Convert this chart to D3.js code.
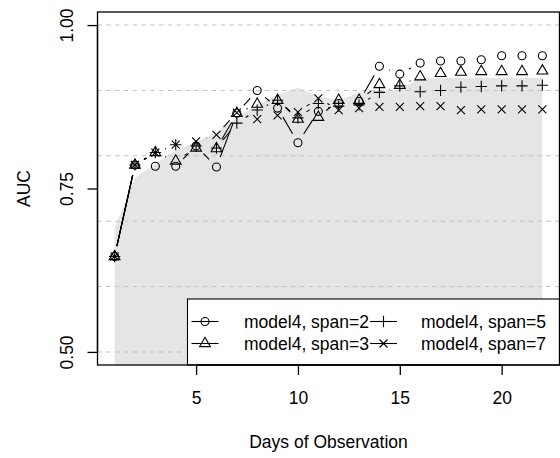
<!DOCTYPE html>
<html>
<head>
<meta charset="utf-8">
<script src="https://cdn.jsdelivr.net/npm/d3@7"></script>
<style>
  html, body { margin: 0; padding: 0; background: #fff; }
  svg { display: block; }
  text { font-family: "Liberation Sans", Arial, Helvetica, sans-serif; fill: #000; }
</style>
</head>
<body>
<svg id="chart" width="560" height="458"></svg>
<script>
// Days of observation (x values)
const days = [1, 2, 3, 4, 5, 6, 7, 8, 9, 10, 11, 12, 13, 14, 15, 16, 17, 18, 19, 20, 21, 22];

// AUC per day for each span setting of model4
const span2 = [0.646, 0.786, 0.784, 0.784, 0.815, 0.783, 0.865, 0.900, 0.873, 0.820, 0.868,
               0.880, 0.883, 0.937, 0.925, 0.942, 0.945, 0.945, 0.947, 0.953, 0.953, 0.953];
const span3 = [0.646, 0.786, 0.805, 0.792, 0.812, 0.811, 0.865, 0.879, 0.885, 0.856, 0.859,
               0.885, 0.885, 0.909, 0.908, 0.921, 0.926, 0.928, 0.929, 0.929, 0.929, 0.930];
const span5 = [0.646, 0.786, 0.805, 0.817, 0.815, 0.812, 0.850, 0.870, 0.885, 0.858, 0.880,
               0.876, 0.878, 0.897, 0.907, 0.898, 0.900, 0.905, 0.906, 0.907, 0.907, 0.908];
const span7 = [0.646, 0.786, 0.805, 0.817, 0.822, 0.832, 0.866, 0.856, 0.862, 0.867, 0.888,
               0.870, 0.873, 0.875, 0.875, 0.876, 0.876, 0.870, 0.871, 0.871, 0.871, 0.871];

// Shaded reference band (upper edge per day)
const band = [0.690, 0.766, 0.788, 0.808, 0.821, 0.836, 0.859, 0.878, 0.893, 0.904, 0.891,
              0.885, 0.897, 0.900, 0.901, 0.919, 0.919, 0.919, 0.919, 0.919, 0.919, 0.919];

const seriesNames = ["model4, span=2", "model4, span=3", "model4, span=5", "model4, span=7"];
const seriesSymbols = ["circle", "triangle", "plus", "cross"];
const xTicks = [5, 10, 15, 20];
const yTicks = [0.50, 0.75, 1.00];
const yGrid = [0.5, 0.6, 0.7, 0.8, 0.9, 1.0];
const xTitle = "Days of Observation";
const yTitle = "AUC";

const seriesValues = [span2, span3, span5, span7];

const svg = d3.select("#chart");
const pLeft = 97.5, pRight = 559.5, pTop = 12, pBottom = 365;

const x = d3.scaleLinear().domain([0.16, 22.84]).range([pLeft, pRight]);
const y = d3.scaleLinear().domain([0.48, 1.02]).range([pBottom, pTop]);

const FS = 17.5;       // base font size
const R = 4.0;         // symbol radius unit
const GAP = 10.5;      // gap around points on connecting lines
const LW = 1.1;

svg.append("defs").append("clipPath").attr("id", "plotclip")
  .append("rect").attr("x", pLeft).attr("y", pTop).attr("width", pRight - pLeft).attr("height", pBottom - pTop);

const plot = svg.append("g").attr("clip-path", "url(#plotclip)");

// shaded band down to the bottom of the plot region
const area = d3.area()
  .x((d, i) => x(days[i]))
  .y0(pBottom + 5)
  .y1(d => y(d));
plot.append("path").datum(band).attr("d", area).attr("fill", "#e5e5e5").attr("stroke", "none");

// dashed horizontal reference lines
plot.selectAll("line.grid").data(yGrid).enter().append("line")
  .attr("x1", pLeft).attr("x2", pRight)
  .attr("y1", d => y(d)).attr("y2", d => y(d))
  .attr("stroke", "#c4c4c4").attr("stroke-width", LW).attr("stroke-dasharray", "4.4,4.4");

// symbol painter
function drawSymbol(g, kind, cx, cy) {
  if (kind === "circle") {
    g.append("circle").attr("cx", cx).attr("cy", cy).attr("r", R)
      .attr("fill", "none").attr("stroke", "#000").attr("stroke-width", LW);
  } else if (kind === "triangle") {
    const r = 1.5551 * R, hx = 1.3468 * R, hy = 0.7776 * R;
    g.append("path").attr("d", `M${cx},${cy - r}L${cx + hx},${cy + hy}L${cx - hx},${cy + hy}Z`)
      .attr("fill", "none").attr("stroke", "#000").attr("stroke-width", LW);
  } else if (kind === "plus") {
    const h = Math.SQRT2 * R;
    g.append("path").attr("d", `M${cx - h},${cy}H${cx + h}M${cx},${cy - h}V${cy + h}`)
      .attr("fill", "none").attr("stroke", "#000").attr("stroke-width", LW);
  } else {
    const h = R;
    g.append("path").attr("d", `M${cx - h},${cy - h}L${cx + h},${cy + h}M${cx - h},${cy + h}L${cx + h},${cy - h}`)
      .attr("fill", "none").attr("stroke", "#000").attr("stroke-width", LW);
  }
}

// broken connecting lines with points (type "b")
const marks = plot.append("g");
seriesValues.forEach((vals, s) => {
  const pts = vals.map((v, i) => [x(days[i]), y(v)]);
  for (let i = 1; i < pts.length; i++) {
    const [x0, y0] = pts[i - 1], [x1, y1] = pts[i];
    const len = Math.hypot(x1 - x0, y1 - y0);
    const f = GAP / len;
    if (f < 0.5) {
      marks.append("line")
        .attr("x1", x0 + f * (x1 - x0)).attr("y1", y0 + f * (y1 - y0))
        .attr("x2", x1 + f * (x0 - x1)).attr("y2", y1 + f * (y0 - y1))
        .attr("stroke", "#000").attr("stroke-width", LW);
    }
  }
  pts.forEach(p => drawSymbol(marks, seriesSymbols[s], p[0], p[1]));
});

// legend
const leg = svg.append("g");
const lx0 = 187.5, ly0 = 299, lx1 = pRight, ly1 = pBottom;
leg.append("rect").attr("x", lx0).attr("y", ly0).attr("width", lx1 - lx0).attr("height", ly1 - ly0)
  .attr("fill", "#fff").attr("stroke", "#000").attr("stroke-width", LW);
const legCols = [{ seg: [191.5, 218.5], tx: 244 }, { seg: [370, 397], tx: 421 }];
const legRows = [321.5, 343.5];
seriesNames.forEach((name, i) => {
  const col = legCols[Math.floor(i / 2)], ry = legRows[i % 2];
  leg.append("line").attr("x1", col.seg[0]).attr("x2", col.seg[1]).attr("y1", ry).attr("y2", ry)
    .attr("stroke", "#000").attr("stroke-width", LW);
  drawSymbol(leg, seriesSymbols[i], (col.seg[0] + col.seg[1]) / 2, ry);
  leg.append("text").attr("x", col.tx).attr("y", ry + 6.3).attr("font-size", FS).text(name);
});

// plot frame
svg.append("rect").attr("x", pLeft).attr("y", pTop).attr("width", pRight - pLeft).attr("height", pBottom - pTop)
  .attr("fill", "none").attr("stroke", "#000").attr("stroke-width", 1.3);

// x axis
const xAxis = d3.axisBottom(x).tickValues(xTicks).tickSize(10).tickPadding(17).tickFormat(d3.format("d"));
const gx = svg.append("g").attr("transform", `translate(0,${pBottom})`).call(xAxis);
gx.select(".domain").attr("d", `M${x(xTicks[0])},0H${x(xTicks[xTicks.length - 1])}`)
  .attr("stroke", "#000").attr("stroke-width", 1.3);
gx.selectAll(".tick line").attr("stroke", "#000").attr("stroke-width", 1.3);
gx.selectAll(".tick text").attr("font-size", FS).attr("font-family", null).attr("fill", "#000");

// y axis
const yAxis = d3.axisLeft(y).tickValues(yTicks).tickSize(10).tickFormat(d3.format(".2f"));
const gy = svg.append("g").attr("transform", `translate(${pLeft},0)`).call(yAxis);
gy.select(".domain").attr("d", `M0,${y(yTicks[0])}V${y(yTicks[yTicks.length - 1])}`)
  .attr("stroke", "#000").attr("stroke-width", 1.3);
gy.selectAll(".tick line").attr("stroke", "#000").attr("stroke-width", 1.3);
gy.selectAll(".tick text")
  .attr("font-size", FS).attr("font-family", null).attr("fill", "#000")
  .attr("x", null).attr("dy", null)
  .attr("text-anchor", "middle")
  .attr("transform", "translate(-24.5,0) rotate(-90)");

// axis titles
svg.append("text").attr("x", (pLeft + pRight) / 2).attr("y", 448).attr("text-anchor", "middle")
  .attr("font-size", FS).text(xTitle);
svg.append("text").attr("transform", `translate(30,${(pTop + pBottom) / 2}) rotate(-90)`)
  .attr("text-anchor", "middle").attr("font-size", FS).text(yTitle);
</script>
</body>
</html>
